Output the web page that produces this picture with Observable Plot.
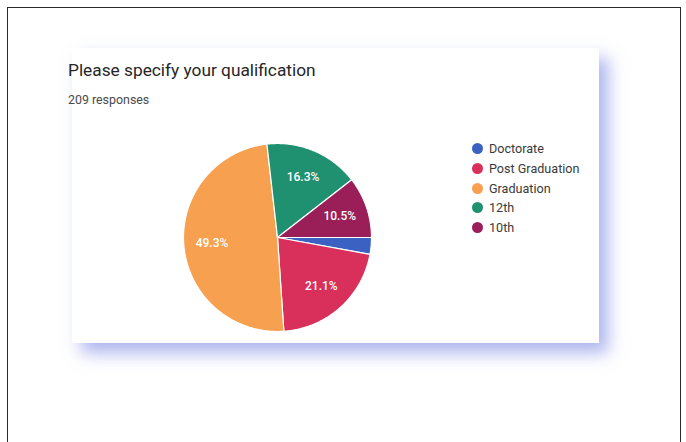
<!DOCTYPE html>
<html>
<head>
<meta charset="utf-8">
<script src="https://cdn.jsdelivr.net/npm/d3@7"></script>
<script src="https://cdn.jsdelivr.net/npm/@observablehq/plot@0.6"></script>
<style>
  html, body { margin: 0; padding: 0; background: #ffffff; }
  body { width: 686px; height: 442px; position: relative; overflow: hidden; font-family: Roboto, "Noto Sans", sans-serif; }
  #frame { position: absolute; left: 7px; top: 7px; width: 672px; height: 460px; border: 1.5px solid #2a2a2a; border-bottom: none; }
  #card { position: absolute; left: 72px; top: 48px; width: 527px; height: 295px; background: #ffffff;
          box-shadow: 9px 10px 16px rgba(120, 132, 226, 0.6); }
  #title { position: absolute; left: 68px; top: 60px; font-size: 17.3px; line-height: 20px; color: #262626; white-space: nowrap; }
  #sub { position: absolute; left: 68px; top: 93px; font-size: 12.4px; line-height: 14px; color: #4a4a4a; white-space: nowrap; }
  #pie { position: absolute; left: 167px; top: 127px; }
  #legend { position: absolute; left: 472px; top: 139px; }
  .row { height: 19.7px; display: flex; align-items: center; font-size: 12.6px; color: #3a3a3a; white-space: nowrap; }
  .dot { width: 11px; height: 11px; border-radius: 50%; margin-right: 6px; }
</style>
</head>
<body>
<div id="frame"></div>
<div id="card"></div>
<div id="title"></div>
<div id="sub"></div>
<div id="pie"></div>
<div id="legend"></div>
<script>
// ---- data ----
const title = "Please specify your qualification";
const subtitle = "209 responses";
const categories = ["Doctorate", "Post Graduation", "Graduation", "12th", "10th"];
const counts = [6, 44, 103, 34, 22];
const colors = ["#3b62c2", "#d8305a", "#f7a04f", "#1f9170", "#9a1f58"];

// ---- layout helpers ----
const size = 220;           // svg width/height
const radiusPx = 94;        // pie radius in px
const L = (size / 2) / radiusPx;

const total = d3.sum(counts);
const rows = categories.map((c, i) => ({ cat: c, value: counts[i] }));
const arcs = d3.pie().value(d => d.value).sort(null)
  .startAngle(Math.PI / 2).endAngle(Math.PI / 2 + 2 * Math.PI)(rows);

// polygon outline of each slice (unit circle, angle clockwise from 12 o'clock)
const poly = [];
arcs.forEach(a => {
  const cat = a.data.cat;
  poly.push({ cat, x: 0, y: 0 });
  const n = Math.max(2, Math.ceil((a.endAngle - a.startAngle) / 0.01));
  for (let k = 0; k <= n; k++) {
    const t = a.startAngle + (a.endAngle - a.startAngle) * k / n;
    poly.push({ cat, x: Math.sin(t), y: Math.cos(t) });
  }
  poly.push({ cat, x: 0, y: 0 });
});

const labels = arcs
  .filter(a => a.data.value / total > 0.05)
  .map(a => {
    const m = (a.startAngle + a.endAngle) / 2;
    return { x: 0.7 * Math.sin(m), y: 0.7 * Math.cos(m), text: (100 * a.data.value / total).toFixed(1) + "%" };
  });

document.getElementById("title").textContent = title;
document.getElementById("sub").textContent = subtitle;

const chart = Plot.plot({
  width: size,
  height: size,
  margin: 0,
  x: { domain: [-L, L], axis: null },
  y: { domain: [-L, L], axis: null },
  color: { domain: categories, range: colors },
  style: { background: "transparent", fontFamily: "Roboto, sans-serif" },
  marks: [
    Plot.line(poly, { x: "x", y: "y", z: "cat", fill: "cat", stroke: "white", strokeWidth: 1.2, strokeLinejoin: "round" }),
    Plot.text(labels, { x: "x", y: "y", text: "text", fill: "white", fontSize: 12, fontWeight: 500 })
  ]
});
document.getElementById("pie").appendChild(chart);

// legend built from the same arrays
const leg = document.getElementById("legend");
categories.forEach((c, i) => {
  const r = document.createElement("div");
  r.className = "row";
  const d = document.createElement("span");
  d.className = "dot";
  d.style.background = colors[i];
  const t = document.createElement("span");
  t.textContent = c;
  r.appendChild(d); r.appendChild(t);
  leg.appendChild(r);
});
</script>
</body>
</html>
